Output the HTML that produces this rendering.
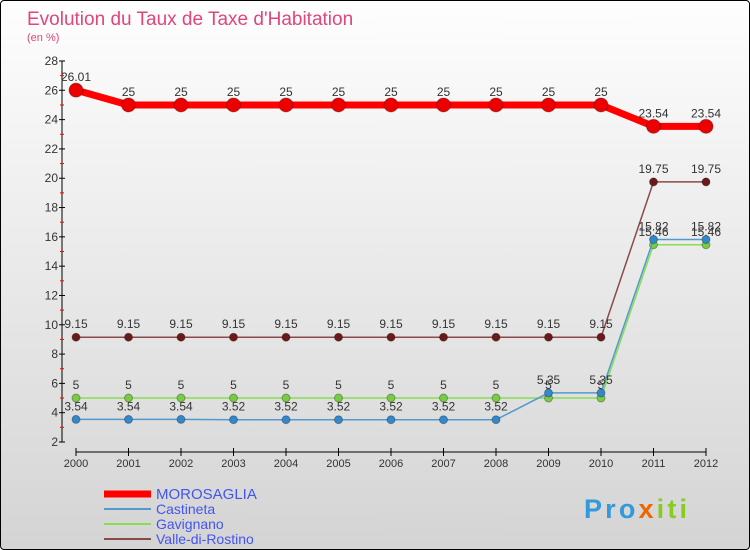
<!DOCTYPE html>
<html><head><meta charset="utf-8"><style>
body{margin:0;}
#c{width:748px;height:548px;border:1px solid #000;border-radius:4px;background:linear-gradient(#fefefe,#d4d4d4);position:relative;overflow:hidden;font-family:"Liberation Sans",sans-serif;}
svg text{font-family:"Liberation Sans",sans-serif;}
</style></head><body>
<div id="c">
<svg id="s" width="748" height="548"></svg>
</div>
<script>
const years=[2000,2001,2002,2003,2004,2005,2006,2007,2008,2009,2010,2011,2012];
const moro=[26.01,25,25,25,25,25,25,25,25,25,25,23.54,23.54];
const cast=[3.54,3.54,3.54,3.52,3.52,3.52,3.52,3.52,3.52,5.35,5.35,15.82,15.82];
const gav=[5,5,5,5,5,5,5,5,5,5,5,15.46,15.46];
const valle=[9.15,9.15,9.15,9.15,9.15,9.15,9.15,9.15,9.15,9.15,9.15,19.75,19.75];
const yTicks=[2,4,6,8,10,12,14,16,18,20,22,24,26,28];
const seriesNames=["MOROSAGLIA","Castineta","Gavignano","Valle-di-Rostino"];
const NS="http://www.w3.org/2000/svg";
const s=document.getElementById('s');
const X=i=>75+i*(630/12);
const Y=v=>441-(v-2)*(381/26);
function el(t,a,txt){const e=document.createElementNS(NS,t);for(const k in a)e.setAttribute(k,a[k]);if(txt!==undefined)e.textContent=txt;s.appendChild(e);return e;}
let t=el('text',{x:26,y:24,'font-size':19,fill:'#e0457b'},'Evolution du Taux de Taxe d\'Habitation');

t=el('text',{x:26,y:40,'font-size':11,fill:'#e0457b'},'(en %)');

let a=el('line',{x1:61,y1:60,x2:61,y2:441,stroke:'#000'});

a=el('line',{x1:75,y1:451,x2:705,y2:451,stroke:'#000'});

yTicks.forEach(v=>{
 el('line',{x1:58,y1:Y(v),x2:64,y2:Y(v),stroke:'#000'});
 if(v<28){el('line',{x1:59,y1:Y(v+1),x2:63,y2:Y(v+1),stroke:'#f00'});}
 const l=el('text',{x:57,y:Y(v)+4,'font-size':12,fill:'#333','text-anchor':'end'},v);
 
});
years.forEach((y,i)=>{
 el('line',{x1:X(i),y1:447,x2:X(i),y2:455,stroke:'#000'});
 const l=el('text',{x:X(i),y:466,'font-size':11,fill:'#333','text-anchor':'middle'},y);
 
});
function series(d,col,lw,r,dot,name,lab){
 const p=el('polyline',{points:d.map((v,i)=>X(i)+','+Y(v)).join(' '),fill:'none',stroke:col,'stroke-width':lw});
 
 d.forEach((v,i)=>{
  const c=el('circle',{cx:X(i),cy:Y(v),r:r,fill:dot,stroke:'rgba(0,0,0,0.3)'});
  
  if(lab){const tx=el('text',{x:X(i),y:Y(v)-9,'font-size':12,fill:'#333','text-anchor':'middle'},String(v));
  }
 });
}
series(valle,'#8b4a4a',1.5,4,'#6b1a1a','valle-di-rostino',true);
series(gav,'#88dd55',1.5,4,'#77cc44','gavignano',true);
series(cast,'#5599cc',1.5,4,'#3388cc','castineta',true);
series(moro,'#ff0000',7,7,'#ee0000','morosaglia',true);
const lc=['#ff0000','#5599cc','#88dd55','#8b4a4a'];const lw=[7,2,2,2];
seriesNames.forEach((n,i)=>{
 const y=493+i*15;
 const g=el('line',{x1:103,y1:y,x2:150,y2:y,stroke:lc[i],'stroke-width':lw[i]});
 
 const tx=el('text',{x:155,y:y+5,'font-size':i==0?15:14,fill:'#4455ee'},n);
 
});
const lg=el('text',{x:583,y:517,'font-size':27,'font-weight':'bold',fill:'#3399dd',textLength:103},'');

const ts=[['Pro','#3399dd'],['x','#ee6600'],['iti','#88cc22']];
ts.forEach(p=>{const sp=document.createElementNS(NS,'tspan');sp.setAttribute('fill',p[1]);sp.textContent=p[0];lg.appendChild(sp);});
</script>
</body></html>
